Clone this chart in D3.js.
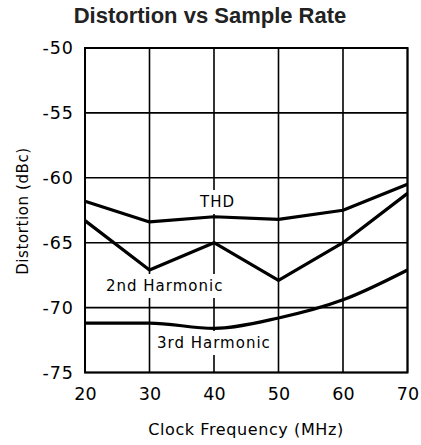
<!DOCTYPE html>
<html><head><meta charset="utf-8">
<script src="https://cdn.jsdelivr.net/npm/d3@7"></script>
<style>
html,body{margin:0;padding:0;background:#fff;}
svg{display:block;}
</style></head>
<body><svg id="c" width="421" height="445"></svg>
<script>
const freqs = [20, 30, 40, 50, 60, 70];
const thd = [-61.8, -63.4, -63.0, -63.2, -62.5, -60.5];
const harm2 = [-63.3, -67.1, -65.0, -67.9, -65.0, -61.2];
const harm3 = [-71.2, -71.2, -71.6, -70.8, -69.4, -67.1];
const xTicks = [20, 30, 40, 50, 60, 70];
const yTicks = [-50, -55, -60, -65, -70, -75];
const seriesLabels = ["THD", "2nd Harmonic", "3rd Harmonic"];

const svg = d3.select("#c");
const m = {l: 85, r: 407.5, t: 48, b: 372.5};
const x = d3.scaleLinear().domain([20, 70]).range([m.l, m.r]);
const y = d3.scaleLinear().domain([-75, -50]).range([m.b, m.t]);
const font = "'DejaVu Sans', sans-serif";

// title
svg.append("text").attr("x", 210).attr("y", 23).attr("text-anchor", "middle")
  .attr("font-family", "'Liberation Sans', Arial, sans-serif").attr("font-weight", "bold")
  .attr("font-size", 22).attr("fill", "#222").text("Distortion vs Sample Rate");

// grid
const g = svg.append("g");
g.selectAll("line.vx").data(xTicks).join("line")
  .attr("x1", d => x(d)).attr("x2", d => x(d)).attr("y1", m.t).attr("y2", m.b)
  .attr("stroke", "#000").attr("stroke-width", 1.6);
g.selectAll("line.hy").data(yTicks).join("line")
  .attr("y1", d => y(d)).attr("y2", d => y(d)).attr("x1", m.l).attr("x2", m.r)
  .attr("stroke", "#000").attr("stroke-width", 1.6);
g.append("rect").attr("x", m.l).attr("y", m.t).attr("width", m.r - m.l).attr("height", m.b - m.t)
  .attr("fill", "none").attr("stroke", "#000").attr("stroke-width", 2);

// axes tick labels via d3 axes
const xAxis = svg.append("g").attr("transform", `translate(0,${m.b})`)
  .call(d3.axisBottom(x).tickValues(xTicks).tickSize(0).tickPadding(15).tickFormat(d3.format("d")));
const yAxis = svg.append("g").attr("transform", `translate(${m.l},0)`)
  .call(d3.axisLeft(y).tickValues(yTicks).tickSize(0).tickPadding(11).tickFormat(d => "-" + Math.abs(d)));
[xAxis, yAxis].forEach(a => {
  a.select(".domain").remove();
  a.selectAll("text").attr("font-family", font).attr("font-size", 17.5).attr("fill", "#000");
});
yAxis.selectAll("text").attr("letter-spacing", 1);

// axis titles
svg.append("text").attr("x", 246).attr("y", 435).attr("text-anchor", "middle")
  .attr("font-family", font).attr("font-size", 16).attr("letter-spacing", 0.6).text("Clock Frequency (MHz)");
svg.append("text").attr("transform", "translate(28,211) rotate(-90)").attr("text-anchor", "middle")
  .attr("font-family", font).attr("font-size", 15).attr("letter-spacing", 0.6).text("Distortion (dBc)");

// series labels with white boxes
const labelPos = [[200, 207], [106, 291], [157, 348]];
const lg = svg.append("g");
seriesLabels.forEach((t, i) => {
  const tx = lg.append("text").attr("x", labelPos[i][0]).attr("y", labelPos[i][1])
    .attr("font-family", font).attr("font-size", 15).attr("letter-spacing", 1).text(t);
  const bb = tx.node().getBBox();
  lg.insert("rect", "text").attr("x", bb.x - 3).attr("y", bb.y - 3)
    .attr("width", bb.width + 4).attr("height", bb.height + 6).attr("fill", "#fff");
});

// lines
const lineLin = d3.line().x((d, i) => x(freqs[i])).y(d => y(d));
const lineCurve = d3.line().x((d, i) => x(freqs[i])).y(d => y(d)).curve(d3.curveMonotoneX);
[[thd, lineLin], [harm2, lineLin], [harm3, lineCurve]].forEach(([s, l]) => {
  svg.append("path").attr("d", l(s)).attr("fill", "none").attr("stroke", "#000")
    .attr("stroke-width", 3.2).attr("stroke-linejoin", "round");
});
</script></body></html>
